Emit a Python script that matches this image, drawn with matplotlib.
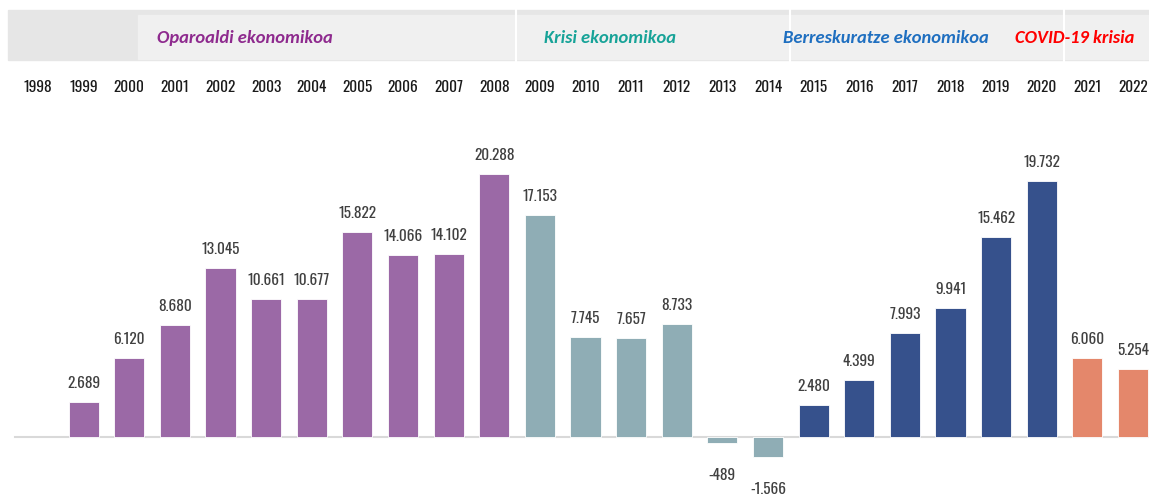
import matplotlib
matplotlib.use('Agg')
import matplotlib.pyplot as plt
from matplotlib.patches import Rectangle

plt.rcParams['font.family'] = ['Oswald', 'Fira Sans Extra Condensed', 'DejaVu Sans']

# datuak
years = [str(y) for y in range(1998, 2023)]
values = [None, 2689, 6120, 8680, 13045, 10661, 10677, 15822, 14066, 14102, 20288,
          17153, 7745, 7657, 8733, -489, -1566,
          2480, 4399, 7993, 9941, 15462, 19732,
          6060, 5254]
labels = ['', '2.689', '6.120', '8.680', '13.045', '10.661', '10.677', '15.822', '14.066',
          '14.102', '20.288', '17.153', '7.745', '7.657', '8.733', '-489', '-1.566',
          '2.480', '4.399', '7.993', '9.941', '15.462', '19.732', '6.060', '5.254']
phase = ['opar'] * 11 + ['krisi'] * 6 + ['berr'] * 6 + ['covid'] * 2
phase_colors = {'opar': '#9b69a6', 'krisi': '#8fadb5', 'berr': '#36518c', 'covid': '#e4876b'}
headers = [('Oparoaldi ekonomikoa', 4.54, '#8e2a8e'),
           ('Krisi ekonomikoa', 12.54, '#17a398'),
           ('Berreskuratze ekonomikoa', 18.59, '#1f6fc0'),
           ('COVID-19 krisia', 22.73, '#ff0000')]

W, H = 1149, 502
fig = plt.figure(figsize=(W / 100, H / 100), dpi=100)
ax = fig.add_axes([0, 0, 1, 1])
ax.set_zorder(2)
ax.patch.set_visible(False)

# pixel -> data mapping
px_x0, px_step = 38, 45.625
base_px, scale = 438, 0.01296
ax.set_xlim(-px_x0 / px_step, 24 + (W - 1133) / px_step)
ax.set_ylim(-(H - base_px) / scale, base_px / scale)
ax.axis('off')

def py(v):
    return (base_px - v) / scale

# header band
fig.patches.append(Rectangle((8 / W, 1 - 61 / H), (W - 8) / W, 50 / H,
                             transform=fig.transFigure, color='#e6e6e6', zorder=0))
fig.patches.append(Rectangle((138 / W, 1 - 60 / H), (W - 138) / W, 44 / H,
                             transform=fig.transFigure, color='#f0f0f0', zorder=0))
for xd in [516, 790, 1064]:
    fig.lines.append(plt.Line2D([xd / W, xd / W], [1 - 62 / H, 1 - 10 / H],
                                transform=fig.transFigure, color='white', lw=1.5, zorder=1))

for txt, xc, col in headers:
    ax.text(xc, py(38), txt, ha='center', va='center', color=col, fontsize=13.3,
            fontweight='bold', style='italic', family=['Carlito', 'DejaVu Sans'])

# baseline
ax.plot([-0.5, 24.5], [0, 0], color='#d9d9d9', lw=1.5, zorder=1)

for i, (yr, v, lab, ph) in enumerate(zip(years, values, labels, phase)):
    ax.text(i, py(87), yr, ha='center', va='center', fontsize=11, color='#1a1a1a')
    if v is None:
        continue
    ax.bar(i, v, width=0.66, color=phase_colors[ph], edgecolor='white', lw=0.6, zorder=2)
    if v >= 0:
        ax.text(i, v + 12 / scale, lab, ha='center', va='bottom', fontsize=11,
                color='#404040', fontweight='light')
    else:
        ax.text(i, v - 24 / scale, lab, ha='center', va='top', fontsize=11,
                color='#404040', fontweight='light')

fig.savefig('out.png', dpi=100)
